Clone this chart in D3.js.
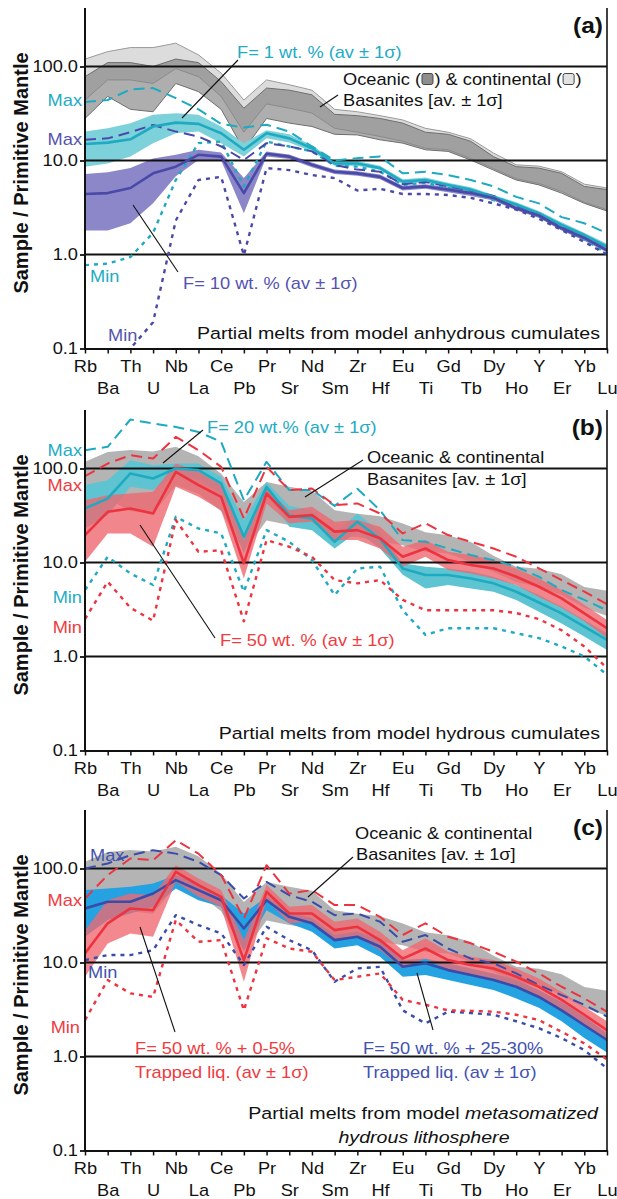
<!DOCTYPE html>
<html>
<head>
<meta charset="utf-8">
<script src="https://cdn.jsdelivr.net/npm/d3@7"></script>
<style>
  html, body { margin: 0; padding: 0; background: #fff; }
  svg { display: block; }
  text { font-family: "Liberation Sans", Arial, Helvetica, sans-serif; }
</style>
</head>
<body>
<svg id="chart" width="617" height="1199"></svg>
<script>
// ---- categories and axis ticks ----
const elements = ["Rb","Ba","Th","U","Nb","La","Ce","Pb","Pr","Sr","Nd","Sm","Zr","Hf","Eu","Ti","Gd","Tb","Dy","Ho","Y","Er","Yb","Lu"];
const yTicks = [0.1, 1, 10, 100];
const gridValues = [1, 10, 100];

// ---- (a) basanite envelopes ----
const continentalHi = [120,144,159,159,177,133,85,44,72,64,56,35,33,30,27,22,20,17,12,9.0,8.7,7.6,5.6,5.1];
const continentalLo = [44,72,72,66,95,78,48,20,40,36,32,22,20,18,16,13.5,13,10.5,8.2,6.4,5.7,4.7,3.6,3.0];
const oceanicHi = [78,110,110,100,120,110,69,36,59,56,50,31,30,28,25,20,19,16,11,8.6,8.3,7.3,5.3,4.9];
const oceanicLo = [28,48,35,33,66,54,35,13,28,25,23,19,18.7,16.6,15.3,13,12.5,10.1,7.9,6.2,5.5,4.5,3.5,2.9];

// ---- (a) anhydrous cumulates, F = 1 wt.% ----
const f1Av  = [15,15.5,16.8,23,25.3,24.5,19.5,13,19.5,17.2,13.5,9.3,9.3,8.3,5.96,6.2,5.5,4.9,4.1,3.4,2.74,2.06,1.61,1.21];
const f1Lo  = [8.6,9.3,11,15.3,19.5,20.3,15.3,11,17.2,15.5,12.5,8.8,8.8,7.9,5.6,5.9,5.2,4.6,3.9,3.2,2.6,1.95,1.52,1.13];
const f1Hi  = [20.3,22,24.9,30.6,31.8,30.6,23,15.3,21,19,14.5,9.9,9.9,8.8,6.3,6.6,5.8,5.2,4.3,3.6,2.9,2.2,1.7,1.3];
const f1Max = [42,44,57,59,46,35,24.5,22.4,24,20.3,14.1,10,10.6,11,7.3,7.6,7.0,6.2,5.3,4.1,3.5,2.5,2.15,1.69];
const f1Min = [0.77,0.8,0.94,1.7,6.2,15.3,15.9,5.3,15.9,14.1,12.5,8.8,8.6,7.6,5.5,5.8,5.1,4.6,3.8,3.2,2.55,1.9,1.45,1.02];

// ---- (a) anhydrous cumulates, F = 10 wt.% ----
const f10Av  = [4.4,4.5,5.1,7.3,8.6,11.5,11,4.5,11.8,11,9.0,7.6,7.3,6.7,5.1,5.3,4.9,4.5,4.0,3.1,2.6,1.9,1.5,1.11];
const f10Lo  = [1.8,1.8,2.15,3.5,6.8,10.1,10,2.75,11,10.4,8.5,7.2,6.9,6.3,4.8,5.0,4.6,4.2,3.75,2.95,2.45,1.8,1.4,1.05];
const f10Hi  = [7.2,7.5,8.3,10.5,11.5,13,12.2,6.5,12.5,11.6,9.5,8.0,7.7,7.1,5.4,5.6,5.2,4.8,4.25,3.3,2.75,2.0,1.6,1.17];
const f10Max = [16.6,17.2,20,23.9,20.3,18,14.1,10.1,15.3,14.1,12.5,9,8.0,7.6,5.6,5.9,5.3,4.8,4.2,3.3,2.75,2.0,1.6,1.2];
const f10Min = [0.06,0.08,0.1,0.19,2.3,6.2,6.7,0.98,8.3,7.9,7.0,6.5,4.8,5.0,4.4,4.4,4.3,4.0,3.5,3.0,2.4,1.82,1.36,1.0];

// ---- (b), (c) combined basanite envelope ----
const basaniteHi = [118,150,157,152,170,135,88,44,72,64,58,36,33,31,26,21,19.5,16.5,11.8,9.0,8.6,7.5,5.5,5.0];
const basaniteLo = [28,48,35,33,66,54,35,13,28,25,23,19,18.7,16.6,15.3,13,12.5,10.1,7.9,6.2,5.5,4.5,3.3,2.7];

// ---- (b) hydrous cumulates, F = 20 wt.% ----
const f20Av  = [37.6,48,88.5,78.3,100,96,69.3,18.8,63.8,31.5,29.4,16.6,27.1,17.9,8.65,7.35,7.35,6.77,6.0,4.89,3.75,2.88,2.08,1.5];
const f20Lo  = [23,31.9,63.8,58.9,85,75.2,54.2,12.5,54,24,22.1,14.1,21.3,14.1,7.4,5.3,5.76,5.3,4.89,4.0,3.0,2.25,1.63,1.17];
const f20Hi  = [66.6,75.2,122.6,108.5,113,113,81.6,28.3,72,40,36,20.4,33.2,21.3,9.8,9.0,8.65,8.0,7.06,5.76,4.5,3.39,2.44,1.77];
const f20Max = [156.6,170,332,301,277,245,192,46,117.7,58.9,58.9,40,61,36,17.3,16.6,14.1,12.0,10.6,9.0,7.06,5.1,4.0,3.1];
const f20Min = [5.1,11.5,7.65,5.76,30.6,23,20.4,4.89,22.1,16.6,10.6,4.5,8.65,9.0,3.1,1.7,2.0,2.0,2.0,1.77,1.57,1.28,1.0,0.64];

// ---- (b) hydrous cumulates, F = 50 wt.% ----
const f50Av  = [19.6,34.6,37.6,33.2,92.2,66.6,50,9.8,54.2,30.6,31.9,21.3,22.1,18.1,11.5,14.1,10.6,9.4,8.65,7.06,5.52,4.15,2.88,2.0];
const f50Lo  = [10.2,20.4,20.4,14.7,63.8,50,36,6.77,42.5,26.1,27.1,17.3,17.3,14.1,9.0,11.5,8.3,7.65,6.77,5.76,4.3,3.3,2.37,1.57];
const f50Hi  = [46,52,54.2,56.5,113,92.2,66.6,17.3,61.3,36,39.2,27.1,28.3,24,14.7,17.3,13.0,12.0,10.6,8.65,6.77,5.1,3.55,2.44];
const f50Max = [82.9,113,138.6,127.7,217,156.6,104,29.4,104,58.9,61.3,40.8,42.5,33.2,20.4,26.1,19.6,16.6,14.1,11.5,8.65,6.5,4.89,3.6];
const f50Min = [2.5,6.25,3.3,2.4,28.3,13.0,13.5,2.37,17.3,14.7,11.5,6.5,6.0,6.5,4.0,3.1,3.1,3.1,3.1,2.9,2.5,1.9,1.28,0.75];

// ---- (c) metasomatized lithosphere, F = 50 wt.% + 0-5% trapped liquid ----
const tl5Av  = [12.5,26.1,37.6,36,92.2,66.6,50,10.6,56.5,33.2,33.2,22.1,24,17.3,11.0,14.1,10.6,9.4,8.65,7.06,5.52,4.0,2.78,1.9];
const tl5Lo  = [7.06,15.9,20.4,18.8,72,50,39.2,6.25,46,26.1,27.1,17.3,18.8,13.5,8.65,11.0,8.3,7.35,6.77,5.52,4.3,3.1,2.15,1.5];
const tl5Hi  = [22.1,46,54.2,52,108.5,78.3,58.9,17.3,66.6,39.2,40.8,27.1,29.4,21.3,13.5,18.1,13.0,11.5,10.6,8.65,6.77,4.89,3.39,2.37];
const tl5Max = [48,85,127.7,122.6,200,144,85,29.4,108.5,54.2,58.9,40.8,40.8,30.6,19.6,26.1,18.8,16,13,10.2,7.65,5.52,4.15,3.0];
const tl5Min = [2.44,6.5,4.7,4.3,28.3,16.6,17.3,3.1,18.1,14.1,13.0,6.5,7.06,7.65,4.0,3.55,3.1,3.06,3.0,2.78,2.44,1.83,1.38,0.93];

// ---- (c) metasomatized lithosphere, F = 50 wt.% + 25-30% trapped liquid ----
const tl30Av  = [37.6,44.3,44.3,54.2,75.2,58.9,46,23,46,30.6,26.1,17.3,18.8,14.7,9.0,9.8,8.3,7.35,6.5,5.52,4.3,3.1,2.15,1.5];
const tl30Lo  = [18.8,28.3,33.2,39.2,61.3,46,39.2,13.5,36,26.1,21.3,14.1,15.3,11.5,7.06,7.35,6.5,5.76,5.1,4.15,3.3,2.37,1.57,1.1];
const tl30Hi  = [58.9,61.3,63.8,69.3,85,69.3,52,33.2,50,34.6,29.4,19.6,21.3,17.3,10.6,11.0,9.8,8.65,7.65,6.5,5.1,3.8,2.66,1.77];
const tl30Max = [100,113,138.6,156.6,144,117.7,85,48,72,52,44.3,31.9,33.2,27.1,16.6,19.6,14.1,11.0,9.8,7.65,5.76,4.5,3.55,2.66];
const tl30Min = [10.6,12,12,13.5,31.9,25,20.4,9.4,24,17.3,13.5,6.25,8.65,9.0,3.1,2.25,3.0,2.9,2.78,2.37,2.0,1.57,1.17,0.75];

// ---- drawing ----
const SX = 1.14;            // lettering is slightly wide
const X0 = 85, X1 = 607;    // plot left/right
const PH = 340.5;           // plot height (top to 0.1)
const C = {
  cyan: "#1eaac0", cyanBand: "#7dd1db", cyanBandB: "#5ec4d1",
  purple: "#4a49a8", purpleBand: "#8c87c9",
  red: "#ee3340", redBand: "#ef6870",
  blue: "#3a4caa", blueBand: "#24a2e2",
  cyanText: "#22acc4", purpleText: "#5552b0", redText: "#ef3b40", blueText: "#4252b0"
};

const svg = d3.select("#chart");
svg.append("rect").attr("width", 617).attr("height", 1199).attr("fill", "#fff");
const x = d3.scalePoint().domain(elements).range([X0, X1]);
const idx = d3.range(elements.length);

function label(parent, px, py, str, o = {}) {
  const t = parent.append("text")
    .attr("transform", `translate(${px},${py}) scale(${SX},1)`)
    .attr("text-anchor", o.anchor || "start")
    .attr("fill", o.fill || "#111")
    .style("font-size", (o.size || 16) + "px")
    .style("font-weight", o.weight || "normal");
  if (Array.isArray(str)) {
    str.forEach(s => t.append("tspan").style("font-style", s.italic ? "italic" : "normal").text(s.text));
  } else {
    t.style("font-style", o.italic ? "italic" : "normal").text(str);
  }
  return t;
}
function leader(parent, x1, y1, x2, y2) {
  parent.append("line").attr("x1", x1).attr("y1", y1).attr("x2", x2).attr("y2", y2)
    .attr("stroke", "#111").attr("stroke-width", 1.1);
}

function makePanel(top, id) {
  const y = d3.scaleLog().domain([0.1, 100]).range([top + PH, top + 58.5]);
  svg.append("clipPath").attr("id", "clip-" + id)
    .append("rect").attr("x", X0).attr("y", top).attr("width", X1 - X0).attr("height", PH);
  const g = svg.append("g");
  const bands = g.append("g").attr("clip-path", `url(#clip-${id})`);
  const grid = g.append("g");
  const lines = g.append("g").attr("clip-path", `url(#clip-${id})`);
  const ann = g.append("g");
  return { y, g, bands, grid, lines, ann, top, bottom: top + PH };
}

function band(p, layer, lo, hi, fill, o = {}) {
  const area = d3.area().x(i => x(elements[i])).y0(i => p.y(lo[i])).y1(i => p.y(hi[i]));
  layer.append("path").attr("d", area(idx)).attr("fill", fill)
    .attr("fill-opacity", o.opacity ?? 1)
    .attr("stroke", o.stroke || "none").attr("stroke-width", o.strokeWidth || 0);
}
function edge(p, layer, vals, color, w) {
  const line = d3.line().x(i => x(elements[i])).y(i => p.y(vals[i]));
  layer.append("path").attr("d", line(idx)).attr("fill", "none").attr("stroke", color).attr("stroke-width", w);
}
function series(p, vals, color, kind) {
  const line = d3.line().x(i => x(elements[i])).y(i => p.y(vals[i]));
  const path = p.lines.append("path").attr("d", line(idx)).attr("fill", "none")
    .attr("stroke", color).attr("stroke-linejoin", "round");
  if (kind === "av") path.attr("stroke-width", 2.6);
  if (kind === "max") path.attr("stroke-width", 2).attr("stroke-dasharray", "11,6");
  if (kind === "min") path.attr("stroke-width", 2.4).attr("stroke-dasharray", "4,5");
}

function frame(p, letter) {
  gridValues.forEach(v => {
    p.grid.append("line").attr("x1", X0).attr("x2", X1).attr("y1", p.y(v)).attr("y2", p.y(v))
      .attr("stroke", "#111").attr("stroke-width", 1.8);
  });
  // y axis
  const ya = p.g.append("g").attr("transform", `translate(${X0},0)`)
    .call(d3.axisLeft(p.y).tickValues(yTicks).tickFormat(d3.format(".1f")).tickSize(5).tickSizeOuter(0));
  ya.select(".domain").remove();
  ya.attr("font-family", null).attr("font-size", null);
  ya.selectAll(".tick line").attr("stroke", "#111").attr("stroke-width", 1.8);
  ya.selectAll(".tick text").attr("fill", "#111").style("font-size", "16px")
    .attr("x", -7 / SX).attr("transform", `scale(${SX},1)`);
  p.g.append("line").attr("x1", X0).attr("x2", X0).attr("y1", p.top).attr("y2", p.bottom + 1)
    .attr("stroke", "#111").attr("stroke-width", 2);
  p.g.append("line").attr("x1", X1).attr("x2", X1).attr("y1", p.top).attr("y2", p.bottom + 1)
    .attr("stroke", "#111").attr("stroke-width", 1.6);
  // x axis
  const xa = p.g.append("g").attr("transform", `translate(0,${p.bottom})`)
    .call(d3.axisBottom(x).tickSize(5).tickSizeOuter(0));
  xa.attr("font-family", null).attr("font-size", null);
  xa.select(".domain").attr("stroke", "#111").attr("stroke-width", 2);
  xa.selectAll(".tick line").attr("stroke", "#111").attr("stroke-width", 1.5);
  xa.selectAll(".tick text").attr("fill", "#111").style("font-size", "16px")
    .attr("y", (d, i) => i % 2 ? 34.5 : 12.5).attr("transform", `scale(${SX},1)`);
  // axis title
  svg.append("text").attr("transform", `translate(28,${p.top + 165}) rotate(-90)`)
    .attr("text-anchor", "middle").attr("fill", "#111")
    .style("font-size", "20px").style("font-weight", "bold").text("Sample / Primitive Mantle");
  label(p.ann, 603, p.top + 25, letter, { anchor: "end", size: 21.5, weight: "bold" });
}

// ===== panel (a) =====
const pa = makePanel(8, "a");
band(pa, pa.bands, continentalLo, continentalHi, "#dcdcdc");
band(pa, pa.bands, oceanicLo, oceanicHi, "#787878", { opacity: 0.6 });
edge(pa, pa.bands, continentalHi, "#9a9a9a", 1);
edge(pa, pa.bands, continentalLo, "#8a8a8a", 1);
edge(pa, pa.bands, oceanicHi, "#6e6e6e", 1);
edge(pa, pa.bands, oceanicLo, "#6e6e6e", 1);
band(pa, pa.bands, f1Lo, f1Hi, C.cyanBand);
band(pa, pa.bands, f10Lo, f10Hi, C.purpleBand);
series(pa, f1Max, C.cyan, "max");
series(pa, f1Min, C.cyan, "min");
series(pa, f10Max, C.purple, "max");
series(pa, f10Min, C.purple, "min");
series(pa, f1Av, C.cyan, "av");
series(pa, f10Av, C.purple, "av");
frame(pa, "(a)");

label(pa.ann, 237, 58, "F= 1 wt. % (av ± 1σ)", { fill: C.cyanText });
leader(pa.ann, 238, 60, 182, 118);
(function () {
  // "Oceanic (■) & continental (■)" with small swatches
  let cx = 343; const by = 85;
  const put = s => { const t = label(pa.ann, cx, by, s); cx += t.node().getComputedTextLength() * SX; };
  const sw = fill => {
    pa.ann.append("rect").attr("x", cx + 1).attr("y", by - 11.5).attr("width", 11).attr("height", 11)
      .attr("rx", 2).attr("fill", fill).attr("stroke", "#444").attr("stroke-width", 1);
    cx += 13.5;
  };
  put("Oceanic ("); sw("#8e8e8e"); put(") & continental ("); sw("#e2e2e2"); put(")");
})();
label(pa.ann, 343, 106, "Basanites [av. ± 1σ]");
leader(pa.ann, 338, 95, 320, 107);
label(pa.ann, 82, 106, "Max", { anchor: "end", fill: C.cyanText });
label(pa.ann, 82, 145, "Max", { anchor: "end", fill: C.purpleText });
label(pa.ann, 90, 282, "Min", { fill: C.cyanText });
label(pa.ann, 108, 341, "Min", { fill: C.purpleText });
label(pa.ann, 183, 289, "F= 10 wt. % (av ± 1σ)", { fill: C.purpleText });
leader(pa.ann, 133, 205, 178, 272);
label(pa.ann, 600, 339, "Partial melts from model anhydrous cumulates", { anchor: "end", size: 17.2 });

// ===== panel (b) =====
const pb = makePanel(410, "b");
band(pb, pb.bands, basaniteLo, basaniteHi, "#b4b4b4");
band(pb, pb.bands, f20Lo, f20Hi, C.cyanBandB);
band(pb, pb.bands, f50Lo, f50Hi, C.redBand, { opacity: 0.8 });
series(pb, f20Max, C.cyan, "max");
series(pb, f20Min, C.cyan, "min");
series(pb, f50Max, C.red, "max");
series(pb, f50Min, C.red, "min");
series(pb, f20Av, C.cyan, "av");
series(pb, f50Av, C.red, "av");
frame(pb, "(b)");

label(pb.ann, 82, 456, "Max", { anchor: "end", fill: C.cyanText });
label(pb.ann, 82, 491, "Max", { anchor: "end", fill: C.redText });
label(pb.ann, 82, 603, "Min", { anchor: "end", fill: C.cyanText });
label(pb.ann, 82, 633, "Min", { anchor: "end", fill: C.redText });
label(pb.ann, 207, 433, "F= 20 wt.% (av ± 1σ)", { fill: C.cyanText });
leader(pb.ann, 203, 430, 163, 463);
label(pb.ann, 367, 463, "Oceanic & continental");
label(pb.ann, 367, 485, "Basanites [av. ± 1σ]");
leader(pb.ann, 363, 460, 305, 497);
label(pb.ann, 220, 646, "F= 50 wt. % (av ± 1σ)", { fill: C.redText });
leader(pb.ann, 140, 525, 215, 638);
label(pb.ann, 600, 739, "Partial melts from model hydrous cumulates", { anchor: "end", size: 17.2 });

// ===== panel (c) =====
const pc = makePanel(810, "c");
band(pc, pc.bands, basaniteLo, basaniteHi, "#b4b4b4");
band(pc, pc.bands, tl30Lo, tl30Hi, C.blueBand);
band(pc, pc.bands, tl5Lo, tl5Hi, C.redBand, { opacity: 0.78 });
series(pc, tl30Max, C.blue, "max");
series(pc, tl30Min, C.blue, "min");
series(pc, tl5Max, C.red, "max");
series(pc, tl5Min, C.red, "min");
series(pc, tl30Av, C.blue, "av");
series(pc, tl5Av, C.red, "av");
frame(pc, "(c)");

label(pc.ann, 90, 861, "Max", { fill: C.blueText });
label(pc.ann, 82, 906, "Max", { anchor: "end", fill: C.redText });
label(pc.ann, 88, 978, "Min", { fill: C.blueText });
label(pc.ann, 80, 1033, "Min", { anchor: "end", fill: C.redText });
label(pc.ann, 355, 839, "Oceanic & continental");
label(pc.ann, 356, 860, "Basanites [av. ± 1σ]");
leader(pc.ann, 353, 857, 308, 897);
label(pc.ann, 135, 1054, "F= 50 wt. % + 0-5%", { fill: C.redText });
label(pc.ann, 135, 1078, "Trapped liq. (av ± 1σ)", { fill: C.redText });
leader(pc.ann, 140, 927, 175, 1032);
label(pc.ann, 363, 1054, "F= 50 wt. % + 25-30%", { fill: C.blueText });
label(pc.ann, 363, 1078, "Trapped liq. (av ± 1σ)", { fill: C.blueText });
leader(pc.ann, 417, 973, 433, 1030);
label(pc.ann, 598, 1119, [{ text: "Partial melts from model " }, { text: "metasomatized", italic: true }], { anchor: "end", size: 17.2 });
label(pc.ann, 424, 1143, "hydrous lithosphere", { anchor: "middle", italic: true, size: 17.2 });
</script>
</body>
</html>
